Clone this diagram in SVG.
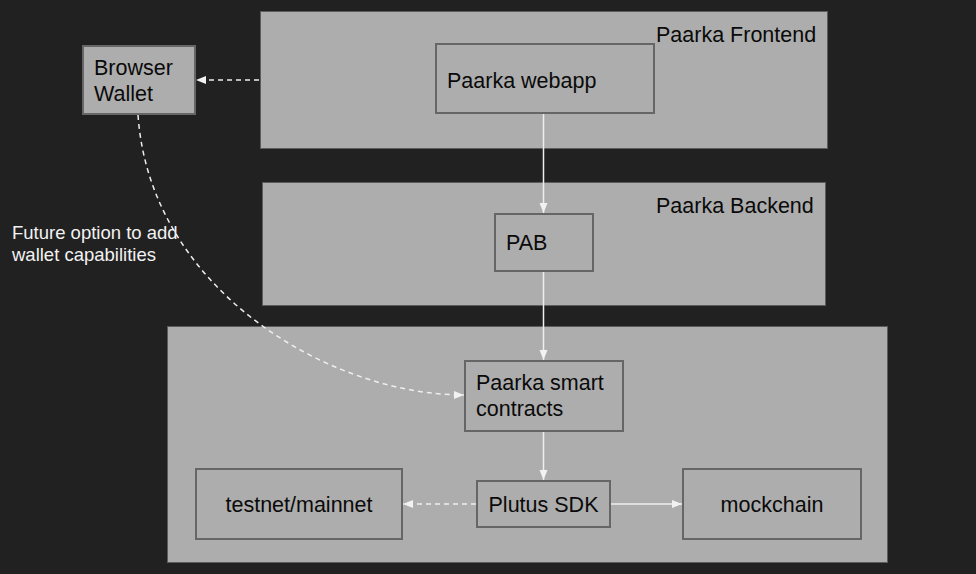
<svg xmlns="http://www.w3.org/2000/svg" width="976" height="574" viewBox="0 0 976 574">
<style>
.bg{fill:#212121}
.cont{fill:#adadad;stroke:#5c5c5c;stroke-width:1}
.box{fill:#adadad;stroke:#666;stroke-width:2}
.t{font-family:"Liberation Sans",Arial,sans-serif;font-size:21.5px;fill:#0a0a0a}
.tm{text-anchor:middle}
.note{font-family:"Liberation Sans",Arial,sans-serif;font-size:18.5px;fill:#f2f2f2}
.c{fill:none;stroke:#eeeeee;stroke-width:1.5}
.d{stroke-dasharray:5 4}
</style>
<defs>
<marker id="ah" viewBox="0 0 10 10" refX="10" refY="5" markerWidth="10" markerHeight="10" markerUnits="userSpaceOnUse" orient="auto">
<path d="M0,1 L10,5 L0,9 Z" fill="#f2f2f2"/>
</marker>
</defs>
<rect class="bg" x="0" y="0" width="976" height="574"/>
<g id="frontend">
<rect class="cont" x="260.5" y="11.5" width="567" height="137"/>
<text class="t" x="656" y="42">Paarka Frontend</text>
</g>
<g id="backend">
<rect class="cont" x="262.5" y="182.5" width="563" height="123"/>
<text class="t" x="656" y="213">Paarka Backend</text>
</g>
<g id="chain">
<rect class="cont" x="167.5" y="326.5" width="720" height="236"/>
</g>
<g id="webapp">
<rect class="box" x="436" y="44" width="218" height="69"/>
<text class="t" x="447" y="88">Paarka webapp</text>
</g>
<g id="wallet">
<rect class="box" x="83" y="46" width="112" height="68"/>
<text class="t" x="94" y="75">Browser</text>
<text class="t" x="94" y="101">Wallet</text>
</g>
<g id="pab">
<rect class="box" x="495" y="214" width="98" height="57"/>
<text class="t" x="506" y="250">PAB</text>
</g>
<g id="contracts">
<rect class="box" x="465" y="361" width="158" height="70"/>
<text class="t" x="476" y="390">Paarka smart</text>
<text class="t" x="476" y="416">contracts</text>
</g>
<g id="testnet">
<rect class="box" x="196" y="469" width="206" height="70"/>
<text class="t tm" x="299" y="512">testnet/mainnet</text>
</g>
<g id="plutus">
<rect class="box" x="477" y="481" width="133" height="46"/>
<text class="t tm" x="543.5" y="512">Plutus SDK</text>
</g>
<g id="mockchain">
<rect class="box" x="683" y="469" width="178" height="70"/>
<text class="t tm" x="772" y="512">mockchain</text>
</g>
<g id="note">
<text class="note" x="12" y="239">Future option to add</text>
<text class="note" x="12" y="261">wallet capabilities</text>
</g>
<g id="connectors">
<path class="c" d="M543.5,114 L543.5,213" marker-end="url(#ah)"/>
<path class="c" d="M543.5,272 L543.5,360" marker-end="url(#ah)"/>
<path class="c" d="M543.5,432 L543.5,480" marker-end="url(#ah)"/>
<path class="c" d="M611,504 L682,504" marker-end="url(#ah)"/>
<path class="c d" d="M476,504 L403,504" marker-end="url(#ah)"/>
<path class="c d" d="M259,80 L196,80" marker-end="url(#ah)"/>
<path class="c d" d="M138,115 C150,290 330,395 464,395" marker-end="url(#ah)"/>
</g>
</svg>
